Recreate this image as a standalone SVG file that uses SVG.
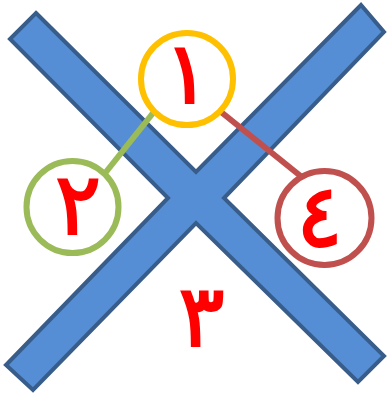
<svg xmlns="http://www.w3.org/2000/svg" width="389" height="393" viewBox="0 0 389 393">
<style>
.num{font-family:"DejaVu Sans",sans-serif;font-weight:normal;font-size:86px;fill:#FF0000;stroke:#FF0000;stroke-width:2;text-anchor:middle}
.ring{fill:#FFFFFF;stroke-width:6}
</style>
<rect width="389" height="393" fill="#FFFFFF"/>
<g id="cross">
<polygon points="36,13 196,172 361,5 384,32 224,198 384,356 358,382 196,223 33,390 6,365 168,198 10,39" fill="#558ED5" stroke="#385D8A" stroke-width="4" stroke-linejoin="miter"/>
</g>
<g id="connectors">
<line x1="157" y1="108" x2="102" y2="177" stroke="#9BBB59" stroke-width="6"/>
<line x1="218" y1="109.5" x2="303" y2="178" stroke="#C0504D" stroke-width="6"/>
</g>
<g id="node1">
<circle class="ring" cx="187" cy="79" r="46" stroke="#FFC000"/>
<text class="num" x="187" y="103">١</text>
</g>
<g id="node2">
<circle class="ring" cx="72.5" cy="207" r="46" stroke="#9BBB59"/>
<text class="num" x="78" y="234">٢</text>
</g>
<g id="node4">
<circle class="ring" cx="324.5" cy="218" r="47" stroke="#C0504D"/>
<text class="num" x="319.5" y="246">٤</text>
</g>
<g id="node3">
<text class="num" x="201.5" y="346">٣</text>
</g>
</svg>
